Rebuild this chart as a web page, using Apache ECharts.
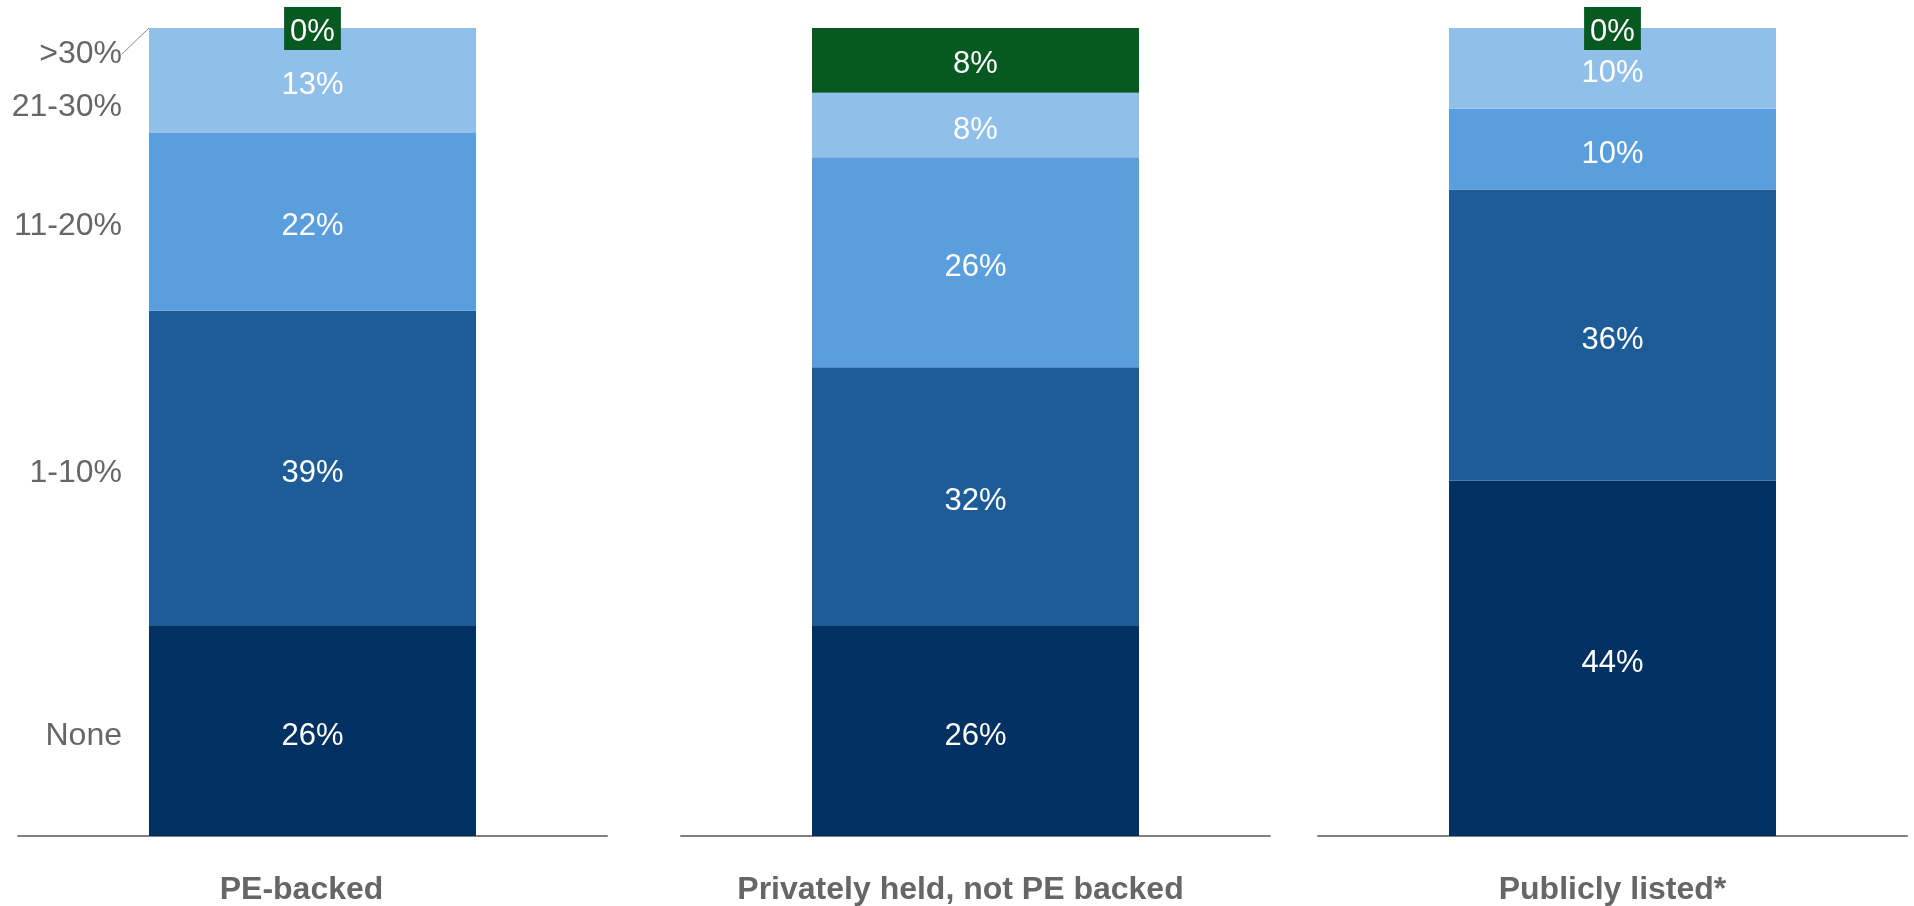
<!DOCTYPE html>
<html>
<head>
<meta charset="utf-8">
<script src="https://cdn.jsdelivr.net/npm/echarts@6/dist/echarts.min.js"></script>
<style>
html,body{margin:0;padding:0;background:#fff;}
#chart{width:1914px;height:906px;}
</style>
</head>
<body>
<div id="chart"></div>
<script>
// ---- data ----
const categories = ['PE-backed', 'Privately held, not PE backed', 'Publicly listed*'];
const bands = ['None', '1-10%', '11-20%', '21-30%', '>30%'];
const noneVals = [26, 26, 44];
const low = [39, 32, 36];
const mid = [22, 26, 10];
const high = [13, 8, 10];
const top30 = [0, 8, 0];
const bandValues = [noneVals, low, mid, high, top30];
const bandColors = ['#003162', '#1e5c98', '#5a9ede', '#90bfea', '#065a21'];

const font = '"Liberation Sans", Arial, sans-serif';
const chart = echarts.init(document.getElementById('chart'));

const gridLefts = [18, 681, 1318];
const catLabelPadRight = [22, 30, 0];
const grids = [], xAxes = [], yAxes = [], series = [];
gridLefts.forEach((l, p) => {
  grids.push({left: l, width: 589, top: 28, height: 809});
  xAxes.push({
    type: 'category', gridIndex: p, data: [categories[p]],
    axisLine: {show: true, lineStyle: {color: '#808080', width: 2}},
    axisTick: {show: false},
    axisLabel: {fontFamily: font, fontSize: 32, fontWeight: 'bold', color: '#666666', margin: 38,
                padding: [0, catLabelPadRight[p], 0, 0]}
  });
  yAxes.push({type: 'value', gridIndex: p, min: 0, max: 100, show: false, splitLine: {show: false}});
  bands.forEach((b, bi) => {
    const isTop = bi === 4;
    series.push({
      type: 'bar', name: b, xAxisIndex: p, yAxisIndex: p, stack: 's' + p,
      data: [bandValues[bi][p]], barWidth: 327,
      itemStyle: {color: bandColors[bi]},
      label: isTop ? {
        show: true, position: 'inside',
        formatter: (d) => '{v|' + Math.round(d.value) + '%}',
        backgroundColor: '#065a21',
        padding: [2, 6, 2, 6],
        offset: [0, 0.5],
        rich: {v: {fontFamily: font, fontSize: 31, color: '#ffffff', padding: [8, 0, 0, 0]}}
      } : {
        show: true, position: 'inside', fontFamily: font, fontSize: 31, color: '#ffffff',
        formatter: (d) => Math.round(d.value) + '%',
        offset: [0, 5]
      },
      silent: true
    });
  });
});

// overlay grid for left-side band labels (same place as first panel)
grids.push({left: gridLefts[0], width: 589, top: 28, height: 809});
xAxes.push({type: 'category', gridIndex: 3, data: [categories[0]], show: false});
yAxes.push({type: 'value', gridIndex: 3, min: 0, max: 100, show: false, splitLine: {show: false}});
const labelShift = [0, 0, 0, 26.5, 26];
bands.forEach((b, bi) => {
  series.push({
    type: 'bar', name: b, xAxisIndex: 3, yAxisIndex: 3, stack: 'lbl',
    data: [bandValues[bi][0]], barWidth: 327,
    itemStyle: {color: 'transparent'},
    label: {
      show: true, position: 'left', distance: 27, fontFamily: font, fontSize: 32, color: '#666666',
      offset: [0, 4],
      formatter: () => b
    },
    labelLayout: labelShift[bi] ? {dy: labelShift[bi]} : undefined,
    labelLine: bi === 4 ? {show: true, length2: 0, lineStyle: {color: '#8a8a8a', width: 1}} : {show: false},
    silent: true, z: 5
  });
});

chart.setOption({
  animation: false,
  backgroundColor: '#ffffff',
  grid: grids, xAxis: xAxes, yAxis: yAxes, series: series
});
</script>
</body>
</html>
